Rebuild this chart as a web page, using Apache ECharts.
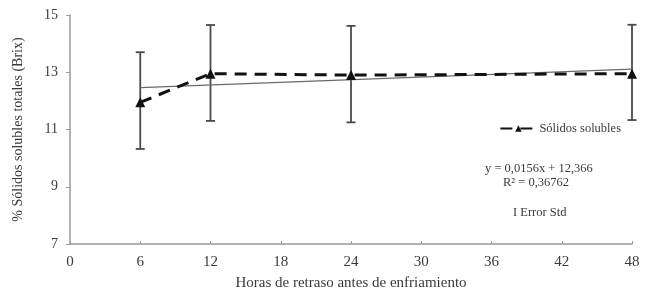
<!DOCTYPE html>
<html><head><meta charset="utf-8">
<script src="https://cdn.jsdelivr.net/npm/echarts@6/dist/echarts.min.js"></script>
<style>html,body{margin:0;padding:0;background:#fff}#c{width:650px;height:301px}</style>
</head><body><div id="c"></div>
<script>
const hours = [6, 12, 24, 48];
const solidos = [11.95, 12.95, 12.9, 12.95];
const errLow = [10.32, 11.3, 11.25, 11.33];
const errHigh = [13.7, 14.65, 14.62, 14.66];
const trendX = [6, 48];
const trendY = [12.46, 13.11];
const xTicks = [0, 6, 12, 18, 24, 30, 36, 42, 48];
const yTicks = [7, 9, 11, 13, 15];

const FONT = '"Liberation Serif", "DejaVu Serif", serif';
const TXT = '#3a3a3a';
const AX = '#9a9a9a';

const chart = echarts.init(document.getElementById('c'));
chart.setOption({
  animation: false,
  backgroundColor: '#fff',
  grid: { left: 70, right: 18, top: 15, bottom: 57 },
  xAxis: {
    type: 'value', min: xTicks[0], max: xTicks[xTicks.length - 1], interval: 6,
    name: 'Horas de retraso antes de enfriamiento', nameLocation: 'middle', nameGap: 32,
    nameTextStyle: { fontFamily: FONT, fontSize: 15, color: TXT },
    axisLine: { lineStyle: { color: AX, width: 1.5 } },
    axisTick: { show: true, inside: true, length: 3, lineStyle: { color: AX } },
    axisLabel: { fontFamily: FONT, fontSize: 15, color: TXT, margin: 11 },
    splitLine: { show: false }
  },
  yAxis: {
    type: 'value', min: yTicks[0], max: yTicks[yTicks.length - 1], interval: 2,
    name: '% Sólidos solubles totales (Brix)', nameLocation: 'middle', nameGap: 45,
    nameTextStyle: { fontFamily: FONT, fontSize: 14, color: TXT },
    axisLine: { show: true, lineStyle: { color: AX, width: 1.5 } },
    axisTick: { show: true, length: 4, lineStyle: { color: AX } },
    axisLabel: { fontFamily: FONT, fontSize: 14, color: TXT, margin: 12 },
    splitLine: { show: false }
  },
  legend: {
    data: [{ name: 'Sólidos solubles' }],
    right: 24, top: 117, itemWidth: 36, itemHeight: 8, itemGap: 4,
    textStyle: { fontFamily: FONT, fontSize: 12.5, color: TXT, padding: [0, 0, 0, -2] }
  },
  series: [
    {
      type: 'custom', name: 'err', z: 1,
      data: hours.map((h, i) => [h, errLow[i], errHigh[i]]),
      renderItem: function (params, api) {
        const lo = api.coord([api.value(0), api.value(1)]);
        const hi = api.coord([api.value(0), api.value(2)]);
        const w = 4.5;
        const st = { stroke: '#4a4a4a', lineWidth: 1.8 };
        return { type: 'group', children: [
          { type: 'line', shape: { x1: hi[0], y1: hi[1], x2: lo[0], y2: lo[1] }, style: st },
          { type: 'line', shape: { x1: hi[0] - w, y1: hi[1], x2: hi[0] + w, y2: hi[1] }, style: st },
          { type: 'line', shape: { x1: lo[0] - w, y1: lo[1], x2: lo[0] + w, y2: lo[1] }, style: st }
        ]};
      }
    },
    {
      type: 'line', name: 'trend', z: 2, silent: true,
      data: trendX.map((x, i) => [x, trendY[i]]),
      symbol: 'none', lineStyle: { color: '#6a6a6a', width: 1.2 }
    },
    {
      type: 'line', name: 'Sólidos solubles', z: 3,
      data: hours.map((h, i) => [h, solidos[i]]),
      symbol: 'triangle', symbolSize: 10,
      itemStyle: { color: '#111' },
      lineStyle: { color: '#111', width: 3, type: [12, 8] }
    }
  ],
  graphic: [
    { type: 'text', left: 485, top: 162, style: { text: 'y = 0,0156x + 12,366', font: '12.5px ' + FONT, fill: TXT } },
    { type: 'text', left: 503, top: 176, style: { text: 'R² = 0,36762', font: '12.5px ' + FONT, fill: TXT } },
    { type: 'text', left: 513, top: 206, style: { text: 'I Error Std', font: '12.5px ' + FONT, fill: TXT } }
  ]
});
</script></body></html>
